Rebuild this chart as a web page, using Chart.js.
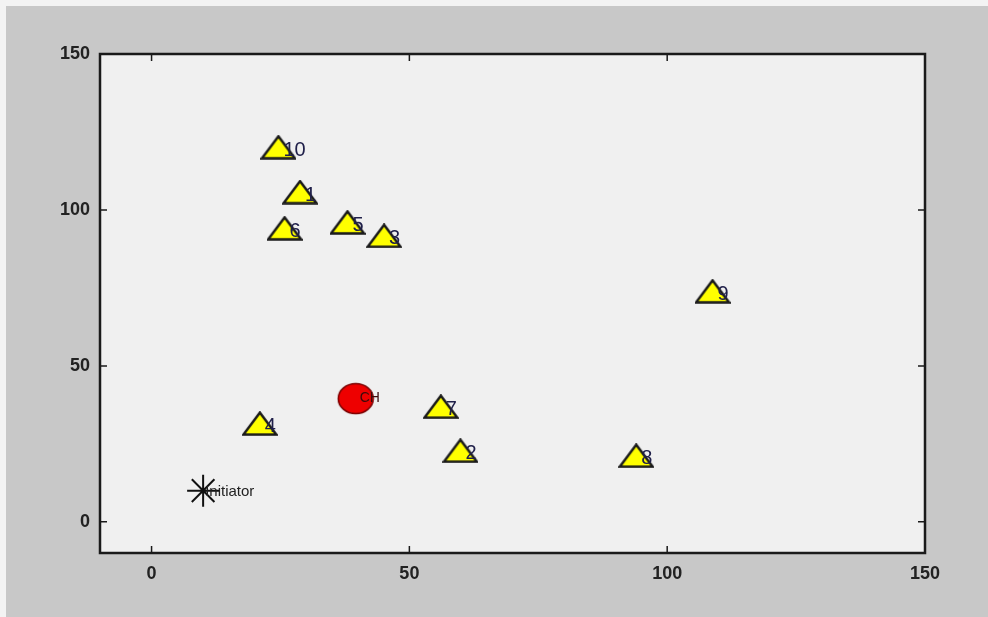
<!DOCTYPE html>
<html>
<head>
<meta charset="utf-8">
<script src="https://cdn.jsdelivr.net/npm/chart.js@4"></script>
<style>
  html, body { margin: 0; padding: 0; background: #f3f3f3; }
  #wrap { position: absolute; left: 6px; top: 6px; width: 982px; height: 611px; }
</style>
</head>
<body>
<div id="wrap"><canvas id="myChart" width="982" height="611"></canvas></div>
<script>
// sensor nodes
const nodeLabels = ['1', '2', '3', '4', '5', '6', '7', '8', '9', '10'];
const nodeX = [28.8, 59.9, 45.1, 21.0, 38.0, 25.8, 56.1, 94.0, 108.8, 24.6];
const nodeY = [105.7, 22.8, 91.7, 31.5, 96.0, 94.1, 36.9, 21.2, 73.9, 120.1];
// cluster head
const chLabels = ['CH'];
const chX = [39.6];
const chY = [39.5];
// initiator
const initLabels = ['Initiator'];
const initX = [10];
const initY = [10];
// axes
const xTicks = [0, 50, 100, 150];
const yTicks = [0, 50, 100, 150];

function makeTriangle() {
  const c = document.createElement('canvas');
  c.width = 36; c.height = 25;
  const g = c.getContext('2d');
  g.beginPath();
  g.moveTo(18, 1.5);
  g.lineTo(34.5, 23.5);
  g.lineTo(1.5, 23.5);
  g.closePath();
  g.fillStyle = '#ffff00';
  g.fill();
  g.lineWidth = 2.5;
  g.strokeStyle = '#1a1a1a';
  g.stroke();
  return c;
}

function makeEllipse() {
  const c = document.createElement('canvas');
  c.width = 38; c.height = 33;
  const g = c.getContext('2d');
  g.beginPath();
  g.ellipse(19, 16.5, 17.5, 15, 0, 0, Math.PI * 2);
  g.fillStyle = '#ee0000';
  g.fill();
  g.lineWidth = 1.5;
  g.strokeStyle = '#7a0000';
  g.stroke();
  return c;
}

function toPoints(xs, ys) {
  return xs.map((x, i) => ({x: x, y: ys[i]}));
}

// background, frame, inward ticks
const framePlugin = {
  id: 'frame',
  beforeDraw(chart) {
    const {ctx, chartArea: a} = chart;
    ctx.save();
    ctx.fillStyle = '#c8c8c8';
    ctx.fillRect(0, 0, chart.width, chart.height);
    ctx.fillStyle = '#f0f0f0';
    ctx.fillRect(a.left, a.top, a.right - a.left, a.bottom - a.top);
    ctx.restore();
  },
  afterDraw(chart) {
    const {ctx, chartArea: a, scales} = chart;
    ctx.save();
    ctx.strokeStyle = '#1a1a1a';
    ctx.lineWidth = 1.5;
    xTicks.forEach(v => {
      const px = scales.x.getPixelForValue(v);
      ctx.beginPath();
      ctx.moveTo(px, a.bottom); ctx.lineTo(px, a.bottom - 7);
      ctx.moveTo(px, a.top); ctx.lineTo(px, a.top + 7);
      ctx.stroke();
    });
    yTicks.forEach(v => {
      const py = scales.y.getPixelForValue(v);
      ctx.beginPath();
      ctx.moveTo(a.left, py); ctx.lineTo(a.left + 7, py);
      ctx.moveTo(a.right, py); ctx.lineTo(a.right - 7, py);
      ctx.stroke();
    });
    ctx.lineWidth = 2.5;
    ctx.strokeRect(a.left, a.top, a.right - a.left, a.bottom - a.top);
    ctx.restore();
  }
};

// text next to each marker
const labelPlugin = {
  id: 'pointLabels',
  afterDatasetsDraw(chart) {
    const {ctx, scales} = chart;
    ctx.save();
    ctx.textAlign = 'left';
    ctx.textBaseline = 'middle';
    chart.data.datasets.forEach(ds => {
      ctx.font = ds.labelFont;
      ctx.fillStyle = ds.labelColor;
      ds.data.forEach((p, i) => {
        const px = scales.x.getPixelForValue(p.x) + ds.labelDx;
        const py = scales.y.getPixelForValue(p.y) + ds.labelDy;
        ctx.fillText(ds.labels[i], px, py);
      });
    });
    ctx.restore();
  }
};

const ctx = document.getElementById('myChart').getContext('2d');
const chart = new Chart(ctx, {
  type: 'scatter',
  data: {
    datasets: [
      {
        label: 'Nodes',
        data: toPoints(nodeX, nodeY),
        labels: nodeLabels,
        pointStyle: makeTriangle(),
        labelFont: '20px "Liberation Sans", Arial, sans-serif',
        labelColor: '#20204a',
        labelDx: 5, labelDy: 3,
      },
      {
        label: 'CH',
        data: toPoints(chX, chY),
        labels: chLabels,
        pointStyle: makeEllipse(),
        labelFont: '14px "Liberation Sans", Arial, sans-serif',
        labelColor: '#3a0a0a',
        labelDx: 4, labelDy: 0,
      },
      {
        label: 'Initiator',
        data: toPoints(initX, initY),
        labels: initLabels,
        pointStyle: 'star',
        radius: 16,
        borderColor: '#111',
        borderWidth: 2,
        backgroundColor: '#111',
        labelFont: '15px "Liberation Sans", Arial, sans-serif',
        labelColor: '#222',
        labelDx: 2, labelDy: 1,
      },
    ]
  },
  options: {
    responsive: false,
    animation: false,
    layout: {
      padding: {top: 48, right: 63, left: 0, bottom: 0}
    },
    scales: {
      x: {
        type: 'linear',
        min: -10,
        max: 150,
        grid: {display: false, drawTicks: false},
        border: {display: false},
        afterBuildTicks(scale) { scale.ticks = xTicks.map(v => ({value: v})); },
        afterFit(scale) { scale.height = 64; },
        ticks: {
          padding: 10,
          color: '#222',
          font: {size: 18, weight: 'bold', family: '"Liberation Sans", Arial, sans-serif'},
        },
      },
      y: {
        type: 'linear',
        min: -10,
        max: 150,
        grid: {display: false, drawTicks: false},
        border: {display: false},
        afterBuildTicks(scale) { scale.ticks = yTicks.map(v => ({value: v})); },
        afterFit(scale) { scale.width = 94; },
        ticks: {
          padding: 10,
          color: '#222',
          font: {size: 18, weight: 'bold', family: '"Liberation Sans", Arial, sans-serif'},
        },
      }
    },
    plugins: {
      legend: {display: false},
      tooltip: {enabled: false},
    }
  },
  plugins: [framePlugin, labelPlugin]
});
</script>
</body>
</html>
